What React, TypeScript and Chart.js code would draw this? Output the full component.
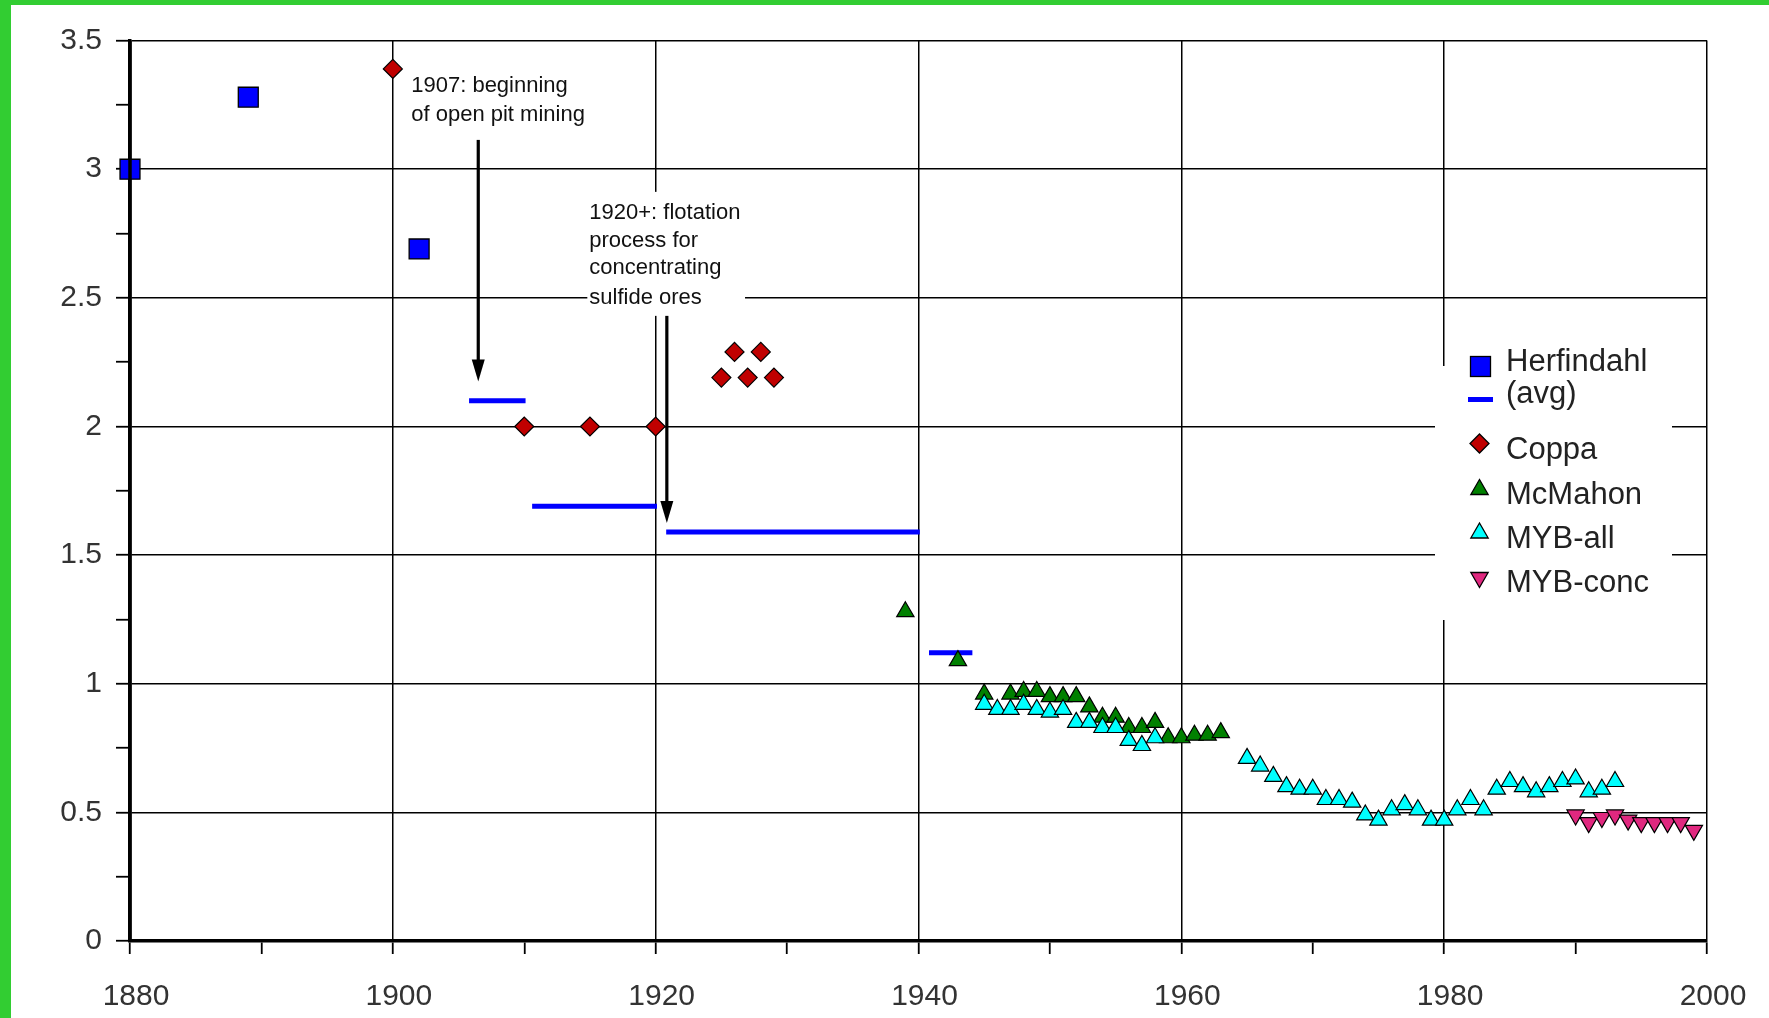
import React, { useEffect, useRef } from 'react';
import { Chart, registerables } from 'chart.js';

Chart.register(...registerables);

// ---- Data ----
const herfYears = [1880, 1889, 1902];
const herfValues = [3.0, 3.28, 2.69];

const avgStart = [1905.8, 1910.6, 1920.8, 1940.8];
const avgEnd = [1910.1, 1920.1, 1940.1, 1944.1];
const avgValues = [2.1, 1.69, 1.59, 1.12];

const coppaYears = [1900, 1910, 1915, 1920, 1925, 1926, 1927, 1928, 1929];
const coppaValues = [3.39, 2.0, 2.0, 2.0, 2.19, 2.29, 2.19, 2.29, 2.19];

const mcmahonYears = [1939, 1943, 1945, 1947, 1948, 1949, 1950, 1951, 1952, 1953, 1954, 1955, 1956, 1957, 1958, 1959, 1960, 1961, 1962, 1963];
const mcmahonValues = [1.28, 1.09, 0.96, 0.96, 0.97, 0.97, 0.95, 0.95, 0.95, 0.91, 0.87, 0.87, 0.83, 0.83, 0.85, 0.79, 0.79, 0.8, 0.8, 0.81];

const mybAllYears = [1945, 1946, 1947, 1948, 1949, 1950, 1951, 1952, 1953, 1954, 1955, 1956, 1957, 1958,
  1965, 1966, 1967, 1968, 1969, 1970, 1971, 1972, 1973, 1974, 1975, 1976, 1977, 1978, 1979, 1980,
  1981, 1982, 1983, 1984, 1985, 1986, 1987, 1988, 1989, 1990, 1991, 1992, 1993];
const mybAllValues = [0.92, 0.9, 0.9, 0.92, 0.9, 0.89, 0.9, 0.85, 0.85, 0.83, 0.83, 0.78, 0.76, 0.79,
  0.71, 0.68, 0.64, 0.6, 0.59, 0.59, 0.55, 0.55, 0.54, 0.49, 0.47, 0.51, 0.53, 0.51, 0.47, 0.47,
  0.51, 0.55, 0.51, 0.59, 0.62, 0.6, 0.58, 0.6, 0.62, 0.63, 0.58, 0.59, 0.62];

const mybConcYears = [1990, 1991, 1992, 1993, 1994, 1995, 1996, 1997, 1998, 1999];
const mybConcValues = [0.49, 0.46, 0.48, 0.49, 0.47, 0.46, 0.46, 0.46, 0.46, 0.43];

const xTickLabels = ['1880', '1900', '1920', '1940', '1960', '1980', '2000'];
const yTickLabels = ['0', '0.5', '1', '1.5', '2', '2.5', '3', '3.5'];

const legendLabels = ['Herfindahl', '(avg)', 'Coppa', 'McMahon', 'MYB-all', 'MYB-conc'];

const noteOpenPit = ['1907: beginning', 'of open pit mining'];
const noteFlotation = ['1920+: flotation', 'process for', 'concentrating', 'sulfide ores'];

const FONT = '"Liberation Sans", Arial, Helvetica, sans-serif';

const COLORS = {
  herf: '#0000FF',
  coppa: '#C00000',
  mcmahon: '#008000',
  mybAll: '#00FFFF',
  mybConc: '#E0287F',
};

function pts(xs: number[], ys: number[]) {
  return xs.map((x, i) => ({ x, y: ys[i] }));
}

function drawTri(ctx: CanvasRenderingContext2D, x: number, y: number, r: number, down: boolean, fill: string) {
  const s = down ? -1 : 1;
  ctx.beginPath();
  ctx.moveTo(x, y - s * r);
  ctx.lineTo(x + 0.866 * r, y + s * r / 2);
  ctx.lineTo(x - 0.866 * r, y + s * r / 2);
  ctx.closePath();
  ctx.fillStyle = fill;
  ctx.fill();
  ctx.lineWidth = 1.3;
  ctx.strokeStyle = '#000';
  ctx.stroke();
}

function App() {
  const ref = useRef<HTMLCanvasElement>(null);

  useEffect(() => {
    const canvas = ref.current;
    if (!canvas) return;

    const avgData: any[] = [];
    avgStart.forEach((s, i) => {
      avgData.push({ x: s, y: avgValues[i] });
      avgData.push({ x: avgEnd[i], y: avgValues[i] });
      if (i < avgStart.length - 1) avgData.push({ x: (avgEnd[i] + avgStart[i + 1]) / 2, y: null });
    });

    const bgPlugin = {
      id: 'bg',
      beforeDraw(chart: any) {
        const c = chart.ctx;
        c.save();
        c.fillStyle = '#fff';
        c.fillRect(0, 0, chart.width, chart.height);
        c.fillStyle = '#32CD32';
        c.fillRect(0, 0, 11, chart.height);
        c.fillRect(0, 0, chart.width, 5);
        c.restore();
      },
    };

    const annotPlugin = {
      id: 'annot',
      beforeDatasetsDraw(chart: any) {
        const c = chart.ctx;
        const xs = chart.scales.x;
        const ys = chart.scales.y;
        c.save();
        // white box behind flotation note
        const bx0 = xs.getPixelForValue(1914.8);
        const bx1 = xs.getPixelForValue(1926.8);
        const by0 = ys.getPixelForValue(2.912);
        const by1 = ys.getPixelForValue(2.43);
        c.fillStyle = '#fff';
        c.fillRect(bx0, by0, bx1 - bx0, by1 - by0);

        c.fillStyle = '#111';
        c.font = `22px ${FONT}`;
        c.textBaseline = 'middle';
        c.textAlign = 'left';
        const n1y = [3.324, 3.211];
        noteOpenPit.forEach((t, i) => c.fillText(t, xs.getPixelForValue(1901.4), ys.getPixelForValue(n1y[i])));
        const n2y = [2.83, 2.72, 2.615, 2.501];
        noteFlotation.forEach((t, i) => c.fillText(t, xs.getPixelForValue(1914.95), ys.getPixelForValue(n2y[i])));

        const arrows = [
          { x: 1906.5, y0: 3.114, y1: 2.175 },
          { x: 1920.85, y0: 2.43, y1: 1.625 },
        ];
        arrows.forEach((a) => {
          const px = xs.getPixelForValue(a.x);
          const p0 = ys.getPixelForValue(a.y0);
          const p1 = ys.getPixelForValue(a.y1);
          c.strokeStyle = '#000';
          c.lineWidth = 3.2;
          c.beginPath();
          c.moveTo(px, p0);
          c.lineTo(px, p1 - 16);
          c.stroke();
          c.fillStyle = '#000';
          c.beginPath();
          c.moveTo(px - 6.5, p1 - 22);
          c.lineTo(px + 6.5, p1 - 22);
          c.lineTo(px, p1);
          c.closePath();
          c.fill();
        });
        c.restore();
      },
      afterDatasetsDraw(chart: any) {
        // the value axis line runs over the marks, as in the reference
        const c = chart.ctx;
        const a = chart.chartArea;
        c.save();
        c.strokeStyle = '#000';
        c.lineWidth = 3.5;
        c.beginPath();
        c.moveTo(a.left, a.top);
        c.lineTo(a.left, a.bottom);
        c.stroke();
        c.restore();
      },
    };

    const legendPlugin = {
      id: 'customLegend',
      afterDraw(chart: any) {
        const c = chart.ctx;
        c.save();
        c.fillStyle = '#fff';
        c.fillRect(1435, 366, 237, 254);
        // Herfindahl square
        c.fillStyle = COLORS.herf;
        c.fillRect(1470.5, 356.5, 20, 20);
        c.lineWidth = 1.3;
        c.strokeStyle = '#000';
        c.strokeRect(1470.5, 356.5, 20, 20);
        // avg dash
        c.strokeStyle = COLORS.herf;
        c.lineWidth = 5;
        c.beginPath();
        c.moveTo(1468, 399.5);
        c.lineTo(1493, 399.5);
        c.stroke();
        // Coppa diamond
        c.beginPath();
        c.moveTo(1479.5, 443.5 - 9.5);
        c.lineTo(1479.5 + 9.5, 443.5);
        c.lineTo(1479.5, 443.5 + 9.5);
        c.lineTo(1479.5 - 9.5, 443.5);
        c.closePath();
        c.fillStyle = COLORS.coppa;
        c.fill();
        c.lineWidth = 1.3;
        c.strokeStyle = '#000';
        c.stroke();
        drawTri(c, 1479.5, 489.5, 10, false, COLORS.mcmahon);
        drawTri(c, 1479.5, 533, 10, false, COLORS.mybAll);
        drawTri(c, 1479.5, 577.5, 10, true, COLORS.mybConc);

        c.fillStyle = '#222';
        c.font = `31px ${FONT}`;
        c.textAlign = 'left';
        c.textBaseline = 'alphabetic';
        const baselines = [371, 403, 459, 504, 548, 592];
        legendLabels.forEach((t, i) => c.fillText(t, 1506, baselines[i]));
        c.restore();
      },
    };

    const isMultiple = (v: number, m: number) => Math.abs(v / m - Math.round(v / m)) < 1e-6;

    const chart = new Chart(canvas, {
      type: 'scatter',
      data: {
        datasets: [
          {
            label: 'Herfindahl',
            data: pts(herfYears, herfValues),
            pointStyle: 'rect',
            pointRadius: 14.1,
            pointBackgroundColor: COLORS.herf,
            pointBorderColor: '#000',
            pointBorderWidth: 1.3,
            showLine: false,
            clip: false,
            order: 6,
          } as any,
          {
            label: '(avg)',
            data: avgData,
            showLine: true,
            spanGaps: false,
            borderColor: COLORS.herf,
            borderWidth: 5,
            borderCapStyle: 'butt',
            pointRadius: 0,
            order: 5,
          } as any,
          {
            label: 'Coppa',
            data: pts(coppaYears, coppaValues),
            pointStyle: 'rectRot',
            pointRadius: 9.5,
            pointBackgroundColor: COLORS.coppa,
            pointBorderColor: '#000',
            pointBorderWidth: 1.2,
            showLine: false,
            clip: false,
            order: 4,
          } as any,
          {
            label: 'McMahon',
            data: pts(mcmahonYears, mcmahonValues),
            pointStyle: 'triangle',
            pointRadius: 10,
            pointBackgroundColor: COLORS.mcmahon,
            pointBorderColor: '#000',
            pointBorderWidth: 1.2,
            showLine: false,
            order: 3,
          },
          {
            label: 'MYB-all',
            data: pts(mybAllYears, mybAllValues),
            pointStyle: 'triangle',
            pointRadius: 10,
            pointBackgroundColor: COLORS.mybAll,
            pointBorderColor: '#000',
            pointBorderWidth: 1.2,
            showLine: false,
            order: 2,
          },
          {
            label: 'MYB-conc',
            data: pts(mybConcYears, mybConcValues),
            pointStyle: 'triangle',
            rotation: 180,
            pointRotation: 180,
            pointRadius: 10,
            pointBackgroundColor: COLORS.mybConc,
            pointBorderColor: '#000',
            pointBorderWidth: 1.2,
            showLine: false,
            order: 1,
          } as any,
        ],
      },
      options: {
        responsive: false,
        maintainAspectRatio: false,
        devicePixelRatio: 1,
        animation: false,
        events: [],
        layout: { padding: { left: 0, top: 40.6, right: 62, bottom: 0 } },
        plugins: {
          legend: { display: false },
          tooltip: { enabled: false },
        },
        scales: {
          x: {
            type: 'linear',
            min: 1880,
            max: 2000,
            afterFit(scale: any) { scale.height = 77; },
            ticks: {
              stepSize: 10,
              autoSkip: false,
              maxRotation: 0,
              padding: 25,
              labelOffset: 6,
              color: '#333',
              font: { size: 30, family: FONT },
              callback: (v: any) => {
                const s = String(v);
                return isMultiple(Number(v), 20) && xTickLabels.includes(s) ? s : '';
              },
            },
            grid: {
              color: (ctx: any) => (ctx.tick && isMultiple(ctx.tick.value, 20) ? '#000' : 'rgba(0,0,0,0)'),
              tickColor: '#000',
              lineWidth: 1.5,
              tickLength: 13,
              tickWidth: 1.8,
            },
            border: { display: true, color: '#000', width: 3.5 },
          },
          y: {
            type: 'linear',
            min: 0,
            max: 3.5,
            afterFit(scale: any) { scale.width = 130; },
            ticks: {
              stepSize: 0.25,
              autoSkip: false,
              padding: 14,
              color: '#333',
              font: { size: 30, family: FONT },
              callback: (v: any) => {
                const s = String(Number(v));
                return isMultiple(Number(v), 0.5) && yTickLabels.includes(s) ? s : '';
              },
            },
            grid: {
              color: (ctx: any) => (ctx.tick && isMultiple(ctx.tick.value, 0.5) ? '#000' : 'rgba(0,0,0,0)'),
              tickColor: '#000',
              lineWidth: 1.5,
              tickLength: 14,
              tickWidth: 1.8,
            },
            border: { display: true, color: '#000', width: 3.5 },
          },
        },
      } as any,
      plugins: [bgPlugin, annotPlugin, legendPlugin],
    });

    return () => chart.destroy();
  }, []);

  return (
    <div style={{ position: 'fixed', left: 0, top: 0, width: 1769, height: 1018, background: '#fff' }}>
      <canvas ref={ref} width={1769} height={1018} style={{ display: 'block', width: 1769, height: 1018 }} />
    </div>
  );
}

export default App;
